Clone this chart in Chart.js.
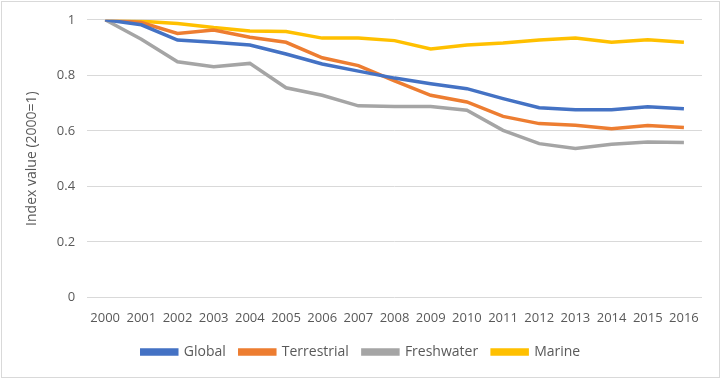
<!DOCTYPE html>
<html>
<head>
<meta charset="utf-8">
<script src="https://cdn.jsdelivr.net/npm/chart.js@4/dist/chart.umd.min.js"></script>
<style>
    html, body { margin: 0; padding: 0; background: #fff; }
    #wrap { position: relative; width: 721px; height: 379px; }
    #frame { position: absolute; left: 1px; top: 1px; width: 719px; height: 377px; box-sizing: border-box; border: 1px solid #d9d9d9; pointer-events: none; }
</style>
</head>
<body>
<div id="wrap">
    <canvas id="chart" width="721" height="379"></canvas>
    <div id="frame"></div>
</div>
<script>
const years = ['2000', '2001', '2002', '2003', '2004', '2005', '2006', '2007', '2008',
    '2009', '2010', '2011', '2012', '2013', '2014', '2015', '2016'];

const globalIdx      = [1, 0.982, 0.927, 0.919, 0.909, 0.877, 0.841, 0.815, 0.79, 0.77, 0.752, 0.716, 0.683, 0.676, 0.676, 0.687, 0.68];
const terrestrialIdx = [1, 0.99, 0.951, 0.963, 0.937, 0.919, 0.863, 0.835, 0.78, 0.728, 0.704, 0.652, 0.626, 0.62, 0.608, 0.619, 0.612];
const freshwaterIdx  = [1, 0.93, 0.849, 0.831, 0.843, 0.755, 0.728, 0.69, 0.688, 0.688, 0.674, 0.602, 0.554, 0.536, 0.552, 0.56, 0.558];
const marineIdx      = [1, 0.995, 0.987, 0.972, 0.96, 0.958, 0.934, 0.934, 0.925, 0.895, 0.909, 0.916, 0.927, 0.934, 0.919, 0.928, 0.919];

const textColor = '#595959';
Chart.defaults.font.family = '"Open Sans", "Liberation Sans", sans-serif';
Chart.defaults.font.size = 13;
Chart.defaults.color = textColor;

const line = (label, data, color) => ({
    label: label,
    data: data,
    borderColor: color,
    backgroundColor: color,
    borderWidth: 3.5,
    pointRadius: 0,
    tension: 0,
    fill: false,
});

new Chart(document.getElementById('chart'), {
    type: 'line',
    data: {
        labels: years,
        datasets: [
            line('Global', globalIdx, '#4472c4'),
            line('Terrestrial', terrestrialIdx, '#ed7d31'),
            line('Freshwater', freshwaterIdx, '#a5a5a5'),
            line('Marine', marineIdx, '#ffc000'),
        ],
    },
    options: {
        responsive: false,
        animation: false,
        layout: { padding: { top: 12, right: 19, left: 20, bottom: 10 } },
        scales: {
            x: {
                offset: true,
                grid: { display: false },
                border: { display: false },
                ticks: { padding: 5, maxRotation: 0, autoSkip: false },
            },
            y: {
                min: 0,
                max: 1,
                ticks: {
                    stepSize: 0.2,
                    padding: 12,
                    callback: (v) => String(Number(v.toFixed(1))),
                },
                grid: { color: '#d9d9d9', drawTicks: false },
                border: { display: false },
                title: { display: true, text: 'Index value (2000=1)', font: { size: 14 }, padding: { bottom: 4 } },
            },
        },
        plugins: {
            legend: {
                position: 'bottom',
                labels: { boxWidth: 35, boxHeight: 4, padding: 14, font: { size: 14 } },
            },
            tooltip: { enabled: false },
        },
    },
});
</script>
</body>
</html>
